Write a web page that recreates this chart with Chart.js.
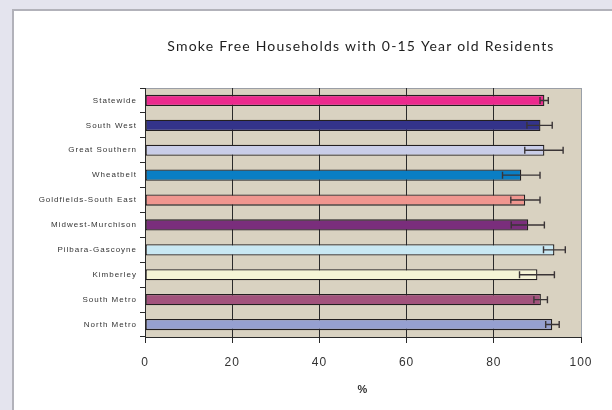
<!DOCTYPE html>
<html>
<head>
<meta charset="utf-8">
<script src="https://cdn.jsdelivr.net/npm/chart.js@4"></script>
<style>
    html, body { margin: 0; padding: 0; overflow: hidden; }
    html { background: #e4e4ee; }
    body { width: 100vw; height: 100vh; position: relative; }
    .panel { position: absolute; left: 12px; top: 9px; right: -40px; bottom: -40px; background: #ffffff; border-left: 2px solid #b2b2ba; border-top: 2px solid #b2b2ba; }
    #chart { position: absolute; left: 0; top: 0; }
</style>
</head>
<body>
<div class="panel"></div>
<canvas id="chart" width="612" height="410"></canvas>
<script>
const regions = ['Statewide', 'South West', 'Great Southern', 'Wheatbelt', 'Goldfields-South East',
    'Midwest-Murchison', 'Pilbara-Gascoyne', 'Kimberley', 'South Metro', 'North Metro'];
const percent = [91.6, 90.7, 91.6, 86.3, 87.2, 87.9, 93.9, 90.0, 90.8, 93.4];
const lowerCI = [90.6, 87.6, 87.1, 82.0, 83.9, 84.0, 91.4, 85.9, 89.2, 91.9];
const upperCI = [92.5, 93.4, 95.9, 90.6, 90.6, 91.6, 96.4, 93.9, 92.3, 95.0];
const barColors = ['#ec2a8e', '#33338a', '#c9cde8', '#0a7ec4', '#f0968f',
    '#7a2e7c', '#c9e8f3', '#f5f4d6', '#a2527c', '#96a0d0'];
const xTicks = [0, 20, 40, 60, 80, 100];
const chartTitle = 'Smoke Free Households with 0-15 Year old Residents';

// beige plot area, spaced-out labels
const plotBackground = {
    id: 'plotBackground',
    beforeDraw(chart) {
        const ctx = chart.ctx;
        const a = chart.chartArea;
        ctx.letterSpacing = '1px';
        ctx.save();
        ctx.fillStyle = '#d9d2c1';
        ctx.fillRect(a.left, a.top, a.right - a.left, a.bottom - a.top);
        ctx.strokeStyle = '#9a9ea6';
        ctx.lineWidth = 1;
        ctx.beginPath();
        ctx.moveTo(a.left, a.top + 0.5);
        ctx.lineTo(a.right, a.top + 0.5);
        ctx.stroke();
        ctx.restore();
    }
};

// title centred over the plot
const centredTitle = {
    id: 'centredTitle',
    afterDraw(chart) {
        const ctx = chart.ctx;
        const a = chart.chartArea;
        ctx.save();
        ctx.letterSpacing = '1.2px';
        ctx.font = '14px Lato';
        ctx.fillStyle = '#1e1e1e';
        ctx.textAlign = 'center';
        ctx.textBaseline = 'middle';
        ctx.fillText(chartTitle, (a.left + a.right) / 2 - 2, 46);
        ctx.restore();
    }
};

// confidence interval whiskers
const errorBars = {
    id: 'errorBars',
    afterDatasetsDraw(chart) {
        const ctx = chart.ctx;
        const xScale = chart.scales.x;
        const meta = chart.getDatasetMeta(0);
        ctx.save();
        ctx.strokeStyle = '#3a3436';
        ctx.lineWidth = 1.4;
        meta.data.forEach((bar, i) => {
            const x1 = xScale.getPixelForValue(lowerCI[i]);
            const x2 = xScale.getPixelForValue(upperCI[i]);
            const y = bar.y;
            ctx.beginPath();
            ctx.moveTo(x1, y);
            ctx.lineTo(x2, y);
            ctx.moveTo(x1, y - 3.5);
            ctx.lineTo(x1, y + 3.5);
            ctx.moveTo(x2, y - 3.5);
            ctx.lineTo(x2, y + 3.5);
            ctx.stroke();
        });
        ctx.restore();
    }
};

new Chart(document.getElementById('chart'), {
    type: 'bar',
    data: {
        labels: regions,
        datasets: [{
            data: percent,
            backgroundColor: barColors,
            borderColor: '#231f20',
            borderWidth: 1.3,
            borderSkipped: false,
            barPercentage: 0.45,
            categoryPercentage: 1
        }]
    },
    options: {
        indexAxis: 'y',
        responsive: false,
        animation: false,
        layout: {
            padding: { left: 0, right: 31, top: 88, bottom: 0 }
        },
        plugins: {
            legend: { display: false },
            tooltip: { enabled: false }
        },
        scales: {
            x: {
                min: 0,
                max: 100,
                afterBuildTicks: (scale) => {
                    scale.ticks = xTicks.map(v => ({ value: v }));
                },
                afterFit: (scale) => { scale.height = 73; },
                grid: {
                    color: (c) => c.tick && c.tick.value === 100 ? '#9aa0a8' : '#2a2a2a',
                    tickColor: '#2a2a2a',
                    tickLength: 6,
                    lineWidth: 1
                },
                border: { display: true, color: '#2a2a2a', width: 1 },
                ticks: {
                    padding: 12,
                    color: '#333333',
                    font: { family: 'Liberation Sans', size: 12 }
                },
                title: {
                    display: true,
                    text: '%',
                    color: '#333333',
                    font: { family: 'Liberation Sans', size: 11, weight: 'bold' },
                    padding: { top: 0, bottom: 13 }
                }
            },
            y: {
                afterFit: (scale) => { scale.width = 145; },
                grid: {
                    drawOnChartArea: false,
                    color: '#2a2a2a',
                    tickLength: 5,
                    offset: true
                },
                border: { display: true, color: '#2a2a2a', width: 1 },
                ticks: {
                    padding: 3,
                    color: '#333333',
                    font: { family: 'Liberation Sans', size: 8 }
                }
            }
        }
    },
    plugins: [plotBackground, errorBars, centredTitle]
});
</script>
</body>
</html>
